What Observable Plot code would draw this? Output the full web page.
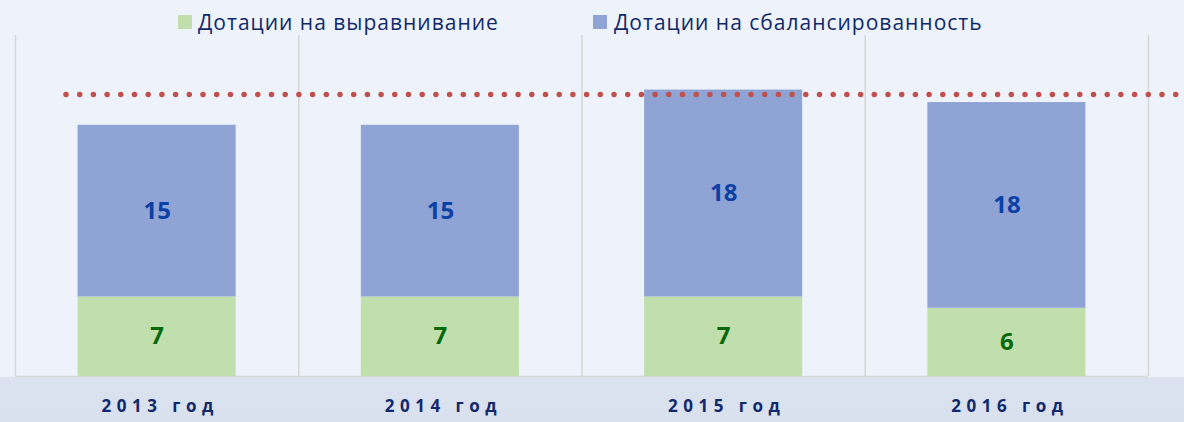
<!DOCTYPE html>
<html>
<head>
<meta charset="utf-8">
<script src="https://cdn.jsdelivr.net/npm/d3@7"></script>
<script src="https://cdn.jsdelivr.net/npm/@observablehq/plot@0.6"></script>
<style>
  html, body { margin: 0; padding: 0; }
  body {
    width: 1184px; height: 422px; overflow: hidden;
    background: linear-gradient(to bottom, #eef2fa 0px, #eef2fa 377px, #dae1ef 377px, #d9e0ee 422px);
    font-family: "Open Sans", sans-serif;
  }
  #legend { position: relative; height: 35px; }
  .sw { position: absolute; top: 15px; width: 14px; height: 14px; }
  .lt { position: absolute; top: 11px; line-height: 22px; font-size: 21px; letter-spacing: 1px; color: #11296b; white-space: nowrap; }
  #chart svg { display: block; overflow: visible; }
  .cat text { letter-spacing: 5.5px; }
</style>
</head>
<body>
<div id="legend"></div>
<div id="chart"></div>
<script>
// ---- data ----
const years = ["2013 год", "2014 год", "2015 год", "2016 год"];
const equalization = [7.0, 7.0, 7.0, 6.0];
const balance = [15.1, 15.1, 18.2, 18.1];
const equalizationLabels = ["7", "7", "7", "6"];
const balanceLabels = ["15", "15", "18", "18"];
const averageLevel = [24.8];
const seriesNames = ["Дотации на выравнивание", "Дотации на сбалансированность"];
const seriesColors = ["#c1dfad", "#8fa4d5"];
const labelColors = ["#066806", "#0b41a5"];

// ---- legend ----
const legend = document.getElementById("legend");
const legendPos = [[178, 198], [593, 614]];
seriesNames.forEach((name, k) => {
  const sw = document.createElement("div");
  sw.className = "sw";
  sw.style.left = legendPos[k][0] + "px";
  sw.style.background = seriesColors[k];
  legend.appendChild(sw);
  const t = document.createElement("div");
  t.className = "lt";
  t.style.left = legendPos[k][1] + "px";
  t.textContent = name;
  legend.appendChild(t);
});

// ---- table ----
const rows = [];
years.forEach((yr, i) => {
  rows.push({i, year: yr, s: 0, y1: 0, y2: equalization[i], label: equalizationLabels[i]});
  rows.push({i, year: yr, s: 1, y1: equalization[i], y2: equalization[i] + balance[i], label: balanceLabels[i]});
});
const half = 0.279;

const chart = Plot.plot({
  width: 1184,
  height: 387,
  marginTop: 0,
  marginBottom: 46,
  marginLeft: 66,
  marginRight: 0,
  style: {background: "transparent", fontFamily: "Open Sans", overflow: "visible"},
  x: {type: "linear", domain: [0, years.length], range: [15, 1148], axis: null},
  y: {domain: [0, 30], axis: null},
  marks: [
    Plot.ruleX(d3.range(years.length + 1), {stroke: "#d6d6d6", strokeWidth: 1.5}),
    Plot.ruleY([0], {x1: 0, x2: years.length, stroke: "#d6d6d6", strokeWidth: 1.5}),
    Plot.rectY(rows, {
      x1: d => d.i + 0.5 - half, x2: d => d.i + 0.5 + half,
      y1: "y1", y2: "y2",
      fill: d => seriesColors[d.s]
    }),
    Plot.ruleY(averageLevel, {stroke: "#c0504d", strokeWidth: 5.5, strokeDasharray: "0 13.7", strokeLinecap: "round"}),
    Plot.text(rows, {
      x: d => d.i + 0.5, y: d => (d.y1 + d.y2) / 2,
      text: "label", fill: d => labelColors[d.s],
      fontSize: 24, fontWeight: "bold", lineAnchor: "middle"
    }),
    Plot.text(years, {
      x: (d, i) => i + 0.5, frameAnchor: "bottom", dy: 30, dx: 3,
      text: d => d, fill: "#11296b", fontSize: 17, fontWeight: "bold",
      lineAnchor: "middle", className: "cat"
    })
  ]
});
document.getElementById("chart").appendChild(chart);
</script>
</body>
</html>
